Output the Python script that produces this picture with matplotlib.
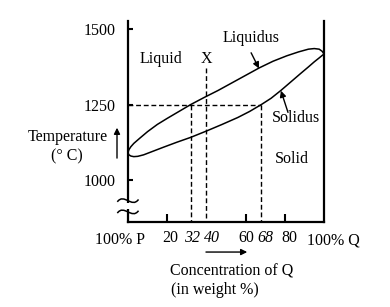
import numpy as np
import matplotlib.pyplot as plt
from matplotlib.patches import FancyArrowPatch, Rectangle, PathPatch
from matplotlib.path import Path
from matplotlib.transforms import blended_transform_factory, ScaledTranslation

plt.rcParams['font.family'] = ['Liberation Serif', 'DejaVu Serif']
plt.rcParams['font.size'] = 11.5

# liquidus / solidus (concentration of Q in wt%, temperature in C)
liq_conc = [0, 0.5, 1.5, 3, 6, 10, 15, 20, 26, 32, 39, 46, 53, 60, 67, 74, 81, 87, 92, 95, 97.5, 99, 100]
liq_temp = [1090, 1100, 1110, 1121, 1138, 1160, 1184, 1204, 1227, 1250, 1274, 1297, 1322, 1347, 1372,
            1394, 1412, 1425, 1434, 1436, 1434, 1427, 1418]
sol_conc = [0, 0.5, 1.5, 3, 5, 8, 12, 18, 25, 32, 40, 48, 56, 62, 68, 73, 78, 83, 88, 92, 95, 97.5, 99, 100]
sol_temp = [1090, 1083, 1079, 1077, 1078, 1083, 1093, 1108, 1125, 1141, 1162, 1184, 1207, 1227, 1250,
            1271, 1297, 1325, 1353, 1375, 1392, 1405, 1413, 1418]

alloy_x = 40
temp_line = 1250
liq_comp = 32
sol_comp = 68

xtick_vals = [20, 32, 40, 60, 68, 80]
xtick_italic = [32, 40, 68]
ytick_vals = [1000, 1250, 1500]

fig = plt.figure(figsize=(3.9, 3.07), dpi=100)
ax = fig.add_axes([0.328, 0.277, 0.503, 0.655])

ax.plot(liq_conc, liq_temp, color='black', lw=1.1)
ax.plot(sol_conc, sol_temp, color='black', lw=1.1)

dash = dict(color='black', lw=1.0, dashes=(3.5, 2))
ax.plot([0, sol_comp], [temp_line, temp_line], **dash)
ax.plot([liq_comp, liq_comp], [temp_line, 860], **dash)
ax.plot([sol_comp, sol_comp], [temp_line, 860], **dash)
ax.plot([alloy_x, alloy_x], [1372, 860], **dash)

ax.set_xlim(0, 100)
ax.set_ylim(860, 1528)

for s in ['left', 'bottom', 'right']:
    ax.spines[s].set_linewidth(1.6)
ax.spines['top'].set_visible(False)

ax.set_xticks(xtick_vals)
ax.set_xticklabels([str(v) for v in xtick_vals])
ax.tick_params(axis='x', direction='in', length=6, width=1.5, pad=6)
# hand-drawn original puts the labels a little right of a linear scale
nudge = {20: 3, 32: 1, 40: 6, 60: 1, 68: 4, 80: 5}
for t, v in zip(ax.xaxis.get_major_ticks(), xtick_vals):
    if v in xtick_italic:
        t.tick1line.set_visible(False)
        t.label1.set_fontstyle('italic')
    t.label1.set_transform(t.label1.get_transform() + ScaledTranslation(nudge[v] / 100, 0, fig.dpi_scale_trans))
ax.set_yticks(ytick_vals)
ax.tick_params(axis='y', direction='in', length=3.5, width=1.5, pad=9)

trans = blended_transform_factory(ax.transData, ax.transAxes)
ax.text(-4, -0.09, '100% P', transform=trans, ha='center', va='center')
ax.text(104.6, -0.09, '100% Q', transform=trans, ha='center', va='center')

# axis break marks: gap in the spine plus two tildes
ax.add_patch(Rectangle((-0.02, 0.064), 0.04, 0.03, transform=ax.transAxes, facecolor='white',
                       edgecolor='none', clip_on=False, zorder=3))
for yb in [0.106, 0.05]:
    verts = [(-0.054, yb - 0.006), (-0.02, yb + 0.04), (0.02, yb - 0.04), (0.054, yb + 0.006)]
    tilde = Path(verts, [Path.MOVETO, Path.CURVE4, Path.CURVE4, Path.CURVE4])
    ax.add_patch(PathPatch(tilde, transform=ax.transAxes, facecolor='none', edgecolor='black',
                           lw=1.1, clip_on=False, zorder=4))

ax.text(16.8, 1402, 'Liquid', ha='center', va='center')
ax.text(alloy_x, 1402, 'X', ha='center', va='center')
ax.text(62.8, 1472, 'Liquidus', ha='center', va='center')
ax.text(85.7, 1204, 'Solidus', ha='center', va='center')
ax.text(83.7, 1068, 'Solid', ha='center', va='center')

arr = dict(arrowstyle='-|>', color='black', lw=1.0, mutation_scale=9, shrinkA=0, shrinkB=0)
ax.annotate('', xy=(66.8, 1370), xytext=(62.8, 1422), arrowprops=arr)
ax.annotate('', xy=(78, 1296), xytext=(81.6, 1224), arrowprops=arr)

fig.text(0.174, 0.554, 'Temperature', ha='center', va='center')
fig.text(0.172, 0.489, '(\u00b0 C)', ha='center', va='center')
fig.patches.append(FancyArrowPatch((0.3, 0.476), (0.3, 0.593), transform=fig.transFigure,
                                   arrowstyle='-|>', mutation_scale=9, color='black', lw=1.0))

fig.text(0.595, 0.117, 'Concentration of Q', ha='center', va='center')
fig.text(0.551, 0.055, '(in weight %)', ha='center', va='center')
fig.patches.append(FancyArrowPatch((0.521, 0.179), (0.641, 0.179), transform=fig.transFigure,
                                   arrowstyle='-|>', mutation_scale=9, color='black', lw=1.0))

fig.savefig('out.png', dpi=100)
